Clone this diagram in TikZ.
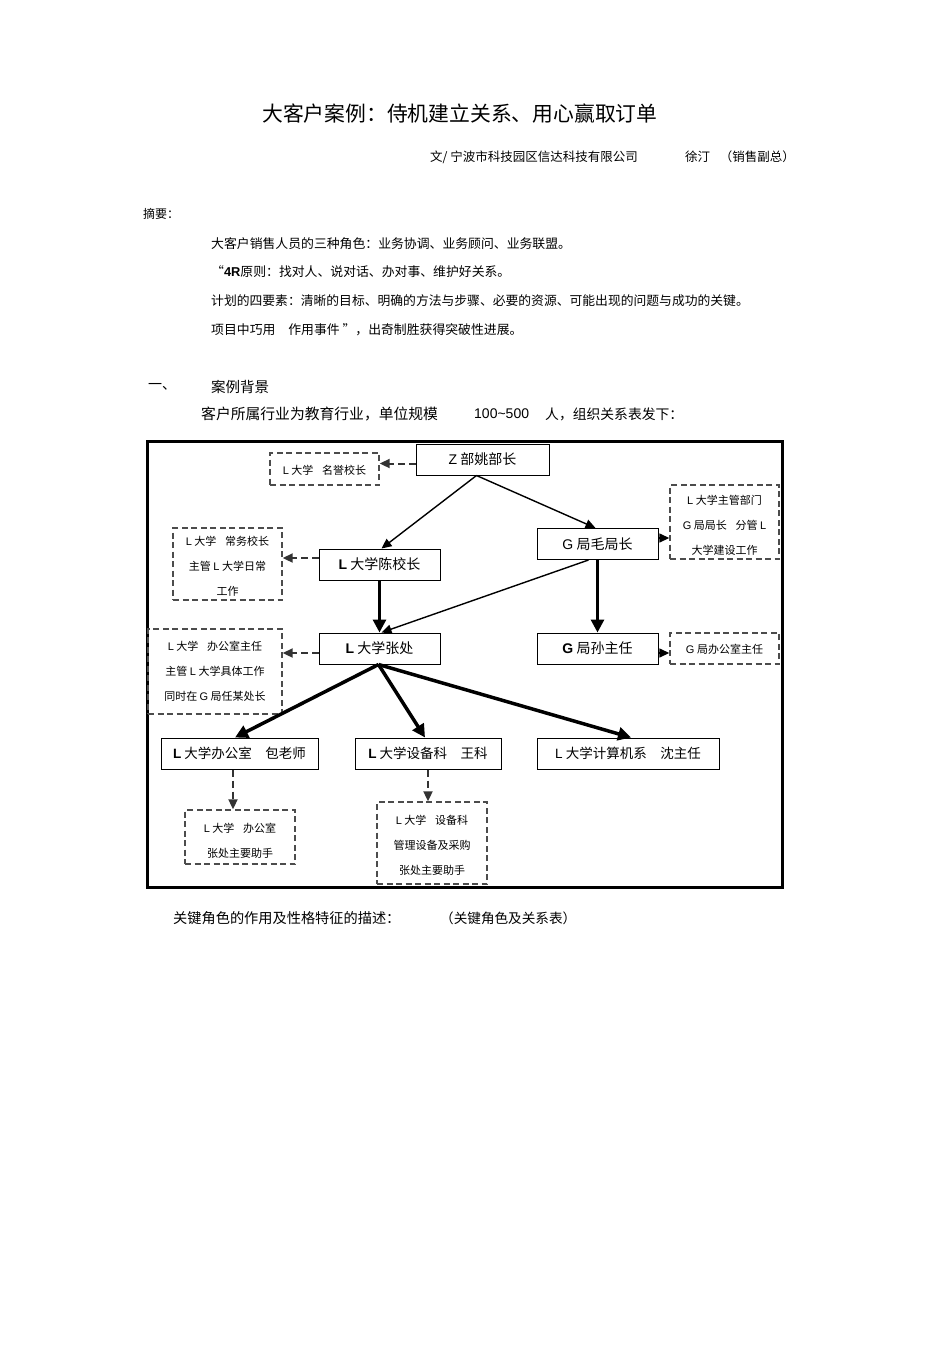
\documentclass[tikz,border=0pt]{standalone}
\usepackage{fontspec}
\setmainfont{Noto Sans CJK SC}
\newfontfamily\lat{Liberation Sans}
\usetikzlibrary{arrows.meta}
\begin{document}
\begin{tikzpicture}[x=1pt,y=-1pt,
  txt/.style={inner sep=0pt,anchor=west},
  sbox/.style={draw,line width=1pt,inner sep=0pt,minimum height=31pt,font=\fontsize{14}{16}\selectfont},
  dbox/.style={draw=black!70,line width=1.4pt,dash pattern=on 6pt off 3.5pt,inner sep=0pt},
  dtxt/.style={inner sep=0pt,align=center,font=\fontsize{11}{25}\selectfont},
  tipa/.style={-{Triangle[length=10pt,width=9pt]}},
  tipb/.style={-{Triangle[length=13pt,width=13pt]}},
  conn/.style={tipa,line width=1.4pt},
  thickconn/.style={tipb,line width=3pt},
  dconn/.style={tipa,line width=2pt,dash pattern=on 7pt off 4pt,draw=black!80},
]
\useasboundingbox (0,0) rectangle (950,1345);

% header text
\node[txt,font=\fontsize{20.8}{22}\selectfont] (title) at (262,114) {大客户案例：侍机建立关系、用心赢取订单};
\node[txt,font=\fontsize{12.5}{14}\selectfont] (auth) at (430,157) {文/ 宁波市科技园区信达科技有限公司};
\node[txt,font=\fontsize{12.5}{14}\selectfont] (name) at (685,157) {徐汀};
\node[inner sep=0pt,anchor=east,font=\fontsize{12.5}{14}\selectfont] (role) at (795,157) {（销售副总）};

\node[txt,font=\fontsize{12}{14}\selectfont] (abs) at (143,214) {摘要：};
\node[txt,font=\fontsize{12.85}{14}\selectfont] (a1) at (211,244) {大客户销售人员的三种角色：业务协调、业务顾问、业务联盟。};
\node[txt,font=\fontsize{12.85}{14}\selectfont] (a2) at (211,272) {“{\lat\bfseries 4R}原则：找对人、说对话、办对事、维护好关系。};
\node[txt,font=\fontsize{12.8}{14}\selectfont] (a3) at (211,301) {计划的四要素：清晰的目标、明确的方法与步骤、必要的资源、可能出现的问题与成功的关键。};
\node[txt,font=\fontsize{12.85}{14}\selectfont] (a4) at (211,330) {项目中巧用\quad 作用事件 ”，出奇制胜获得突破性进展。};

\node[txt,font=\fontsize{14}{16}\selectfont] (sec) at (148,387) {一、};
\node[txt,font=\fontsize{14.5}{16}\selectfont] (sect) at (211,387) {案例背景};
\node[txt,font=\fontsize{14.8}{16}\selectfont] (b1) at (201,414) {客户所属行业为教育行业，单位规模};
\node[txt,font=\lat\fontsize{14}{16}\selectfont] (b2) at (474,414) {100\textasciitilde500};
\node[txt,font=\fontsize{13.8}{16}\selectfont] (b3) at (545,414) {人，组织关系表发下：};

\node[txt,font=\fontsize{14.2}{16}\selectfont] (c1) at (173,918) {关键角色的作用及性格特征的描述：};
\node[txt,font=\fontsize{13.6}{16}\selectfont] (c2) at (440,918) {（关键角色及关系表）};

% frame
\node[draw,line width=3pt,minimum width=635pt,minimum height=446pt,inner sep=0pt] (frame) at (464.5,664) {};

% solid boxes
\node[sbox,minimum width=133pt] (z) at (482.5,459.5) {{\lat Z} 部姚部长};
\node[sbox,minimum width=121pt] (gmao) at (597.5,544) {{\lat G} 局毛局长};
\node[sbox,minimum width=121pt] (chen) at (379.5,564.5) {{\lat\bfseries L} 大学陈校长};
\node[sbox,minimum width=121pt] (zhang) at (379.5,648.5) {{\lat\bfseries L} 大学张处};
\node[sbox,minimum width=121pt] (sun) at (597.5,648.5) {{\lat\bfseries G} 局孙主任};
\node[sbox,minimum width=157pt,font=\fontsize{13.5}{16}\selectfont] (bao) at (239.5,753.5) {{\lat\bfseries L} 大学办公室\quad 包老师};
\node[sbox,minimum width=146pt,font=\fontsize{13.5}{16}\selectfont] (wang) at (428,753.5) {{\lat\bfseries L} 大学设备科\quad 王科};
\node[sbox,minimum width=182pt,font=\fontsize{13.5}{16}\selectfont] (shen) at (628,753.5) {{\lat L} 大学计算机系\quad 沈主任};

% dashed boxes
\node[dbox,minimum width=109pt,minimum height=32pt] (mingyu) at (324.5,469) {};
\node[dtxt] (mingyu-t) at ([yshift=-1pt]mingyu.center) {{\lat L} 大学\hspace{0.8em}名誉校长};
\node[dbox,minimum width=109pt,minimum height=74pt] (zhuguan) at (724.5,522) {};
\node[dtxt] (zhuguan-t) at ([yshift=-3pt]zhuguan.center) {{\lat L} 大学主管部门\\{\lat G} 局局长\hspace{0.8em}分管 {\lat L}\\大学建设工作};
\node[dbox,minimum width=109pt,minimum height=72pt] (changwu) at (227.5,564) {};
\node[dtxt] (changwu-t) at ([yshift=-2.5pt]changwu.center) {{\lat L} 大学\hspace{0.8em}常务校长\\主管 {\lat L} 大学日常\\工作};
\node[dbox,minimum width=134pt,minimum height=85pt] (bgszr) at (215,671.5) {};
\node[dtxt] (bgszr-t) at (bgszr.center) {{\lat L} 大学\hspace{0.8em}办公室主任\\主管 {\lat L} 大学具体工作\\同时在 {\lat G} 局任某处长};
\node[dbox,minimum width=109pt,minimum height=31pt] (gbgs) at (724.5,648.5) {};
\node[dtxt] (gbgs-t) at ([yshift=-1pt]gbgs.center) {{\lat G} 局办公室主任};
\node[dbox,minimum width=110pt,minimum height=54pt] (bzs) at (240,837) {};
\node[dtxt] (bzs-t) at ([yshift=-4pt]bzs.center) {{\lat L} 大学\hspace{0.8em}办公室\\张处主要助手};
\node[dbox,minimum width=110pt,minimum height=82pt] (sbk) at (432,843) {};
\node[dtxt] (sbk-t) at ([yshift=-2pt]sbk.center) {{\lat L} 大学\hspace{0.8em}设备科\\管理设备及采购\\张处主要助手};

% connectors
\draw[dconn] ([yshift=-4pt]z.west) -- ([yshift=-4pt]z.west -| mingyu.east);
\draw[conn] ([xshift=-6pt]z.south) -- ([xshift=2pt]chen.north);
\draw[conn] ([xshift=-6pt]z.south) -- ([xshift=-2pt]gmao.north);
\draw[dconn] ([yshift=6.5pt]chen.west) -- ([yshift=6.5pt]chen.west -| changwu.east);
\draw[conn] ([yshift=6pt]gmao.east) -- ([yshift=6pt]gmao.east -| zhuguan.west);
\draw[thickconn] (chen.south) -- (zhang.north);
\draw[conn] ([xshift=-9pt]gmao.south) -- ([xshift=2pt]zhang.north);
\draw[thickconn] (gmao.south) -- (sun.north);
\draw[dconn] ([yshift=-4.5pt]zhang.west) -- ([yshift=-4.5pt]zhang.west -| bgszr.east);
\draw[conn] ([yshift=-4.5pt]sun.east) -- ([yshift=-4.5pt]sun.east -| gbgs.west);
\draw[thickconn,line width=3.5pt] ([xshift=-1pt]zhang.south) -- ([xshift=-4.5pt]bao.north);
\draw[thickconn,line width=3.5pt] ([xshift=-1pt]zhang.south) -- ([xshift=-3pt]wang.north);
\draw[thickconn,line width=3.5pt] ([xshift=-1pt]zhang.south) -- ([xshift=3pt]shen.north);
\draw[dconn] ([xshift=-6.5pt]bao.south) -- ([xshift=-6.5pt]bao.south |- bzs.north);
\draw[dconn] (wang.south) -- (wang.south |- sbk.north);
\end{tikzpicture}
\end{document}
